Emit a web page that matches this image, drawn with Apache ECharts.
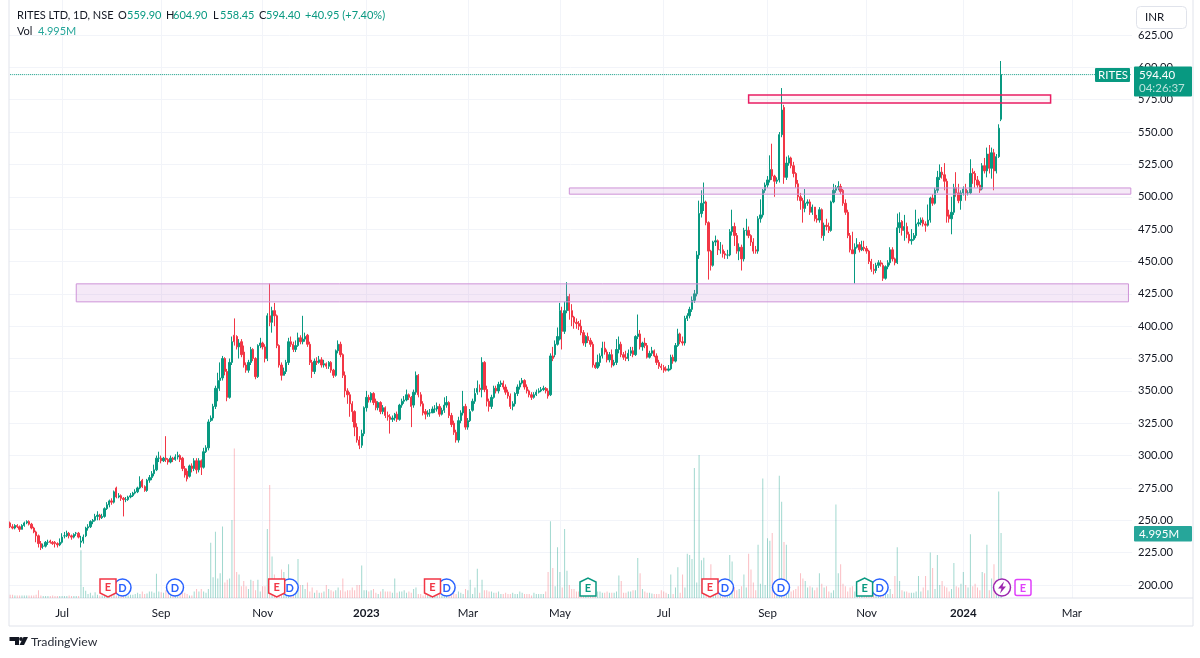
<!DOCTYPE html>
<html><head><meta charset="utf-8">
<style>html,body{margin:0;padding:0;background:#fff}#c{width:1200px;height:658px}</style>
<script src="https://cdn.jsdelivr.net/npm/echarts@6/dist/echarts.min.js"></script>
</head><body><div id="c"></div>
<script>
const opens=[
248,245,244,246,245,243,246,248,249,247,
244,241,238,232,230,230,233,234,233,233,
232,231,233,238,238,240,238,237,240,240,
233,234,238,244,245,249,250,253,254,252,
253,259,262,265,264,275,268,269,267,266,
266,268,269,271,272,275,281,276,273,281,
283,286,289,298,298,296,298,297,295,298,
297,299,300,298,290,288,284,292,290,296,
289,296,291,303,306,327,329,338,352,358,
360,375,365,345,372,393,392,384,388,380,
370,366,372,382,375,361,385,387,384,375,
408,403,412,408,385,370,362,365,372,388,
386,382,385,391,388,390,393,386,372,365,
373,372,374,370,371,369,372,366,362,381,
386,378,362,350,347,340,334,322,312,308,
317,337,345,343,348,342,337,341,334,337,
331,330,328,329,332,328,339,342,343,347,
345,339,349,362,347,340,334,332,333,333,
336,336,338,332,335,339,341,331,325,318,
312,327,333,338,322,327,335,342,349,352,
351,372,351,342,338,345,352,350,355,356,
353,349,346,338,340,348,353,356,358,353,
350,347,345,347,349,350,351,352,350,347,
377,378,386,390,410,396,412,423,412,407,
403,402,400,395,387,392,389,386,370,368,
372,377,383,380,374,378,370,372,382,386,
378,376,375,379,381,378,392,394,384,387,
385,376,379,381,377,372,369,368,367,366,
367,376,373,385,394,388,387,406,408,413,
420,425,455,487,495,496,480,458,447,465,
466,459,459,456,455,455,473,477,470,458,
461,452,474,474,470,465,459,458,483,486,
505,509,513,521,516,512,513,548,569,515,
526,530,524,518,510,500,497,491,495,496,
488,492,483,482,490,470,478,477,474,496,
505,507,508,505,495,488,470,459,456,461,
463,459,461,460,458,450,444,443,447,449,
447,437,446,449,459,452,449,476,481,474,
477,471,466,467,470,479,480,482,479,478,
482,499,495,505,515,519,517,512,486,483,
488,507,503,497,503,506,503,503,519,518,
513,509,506,524,520,533,522,534,520,531,
559.9];
const closes=[
245,244,246,245,243,246,248,249,247,244,
241,238,232,229,230,233,233,233,232,232,
231,233,237,238,240,238,237,239,240,237,
234,237,244,245,249,250,253,254,252,253,
259,262,265,264,272,268,269,267,266,266,
268,269,271,272,275,280,276,273,281,283,
286,289,298,298,296,298,297,295,298,297,
299,300,297,290,285,282,292,290,296,289,
296,291,303,306,326,329,338,352,358,360,
375,365,345,372,388,388,384,387,378,370,
366,372,382,375,361,385,387,384,375,408,
403,412,408,385,370,362,365,372,388,386,
382,385,391,388,390,392,386,372,365,373,
372,374,370,371,369,372,366,362,381,386,
378,362,350,347,340,334,322,312,308,317,
337,345,343,348,341,337,341,334,337,331,
330,328,329,332,328,339,342,343,347,345,
338,349,362,347,340,333,332,333,333,336,
336,338,332,335,339,341,331,324,318,312,
327,333,338,322,327,334,342,348,352,351,
372,351,342,338,345,352,350,355,356,353,
349,346,338,340,348,353,356,358,353,350,
347,345,347,349,350,351,352,350,346,377,
375,386,392,412,396,412,423,412,407,403,
402,400,395,387,392,389,386,370,368,372,
377,383,380,374,378,370,372,382,386,378,
376,375,379,381,378,392,394,384,387,385,
376,379,381,377,372,369,368,366,366,367,
376,373,385,394,388,387,406,408,413,420,
425,455,487,495,496,480,458,447,465,466,
459,459,456,455,455,473,477,470,458,461,
452,474,474,470,465,458,458,483,486,505,
509,513,521,516,512,513,548,567,515,526,
530,524,518,510,500,497,491,495,496,488,
492,483,482,490,470,478,477,474,496,505,
507,508,504,495,488,470,459,456,461,463,
459,461,460,458,450,444,443,447,449,448,
437,446,449,459,452,449,476,480,474,477,
471,466,467,470,479,480,482,479,478,482,
499,495,505,515,519,517,512,485,483,488,
507,503,497,503,506,503,503,518,518,513,
509,505,524,520,533,522,534,520,531,553,
594.4];
const highs=[
249,247,247,247,246,247,249,250,250,248,
245,242,239,234,232,234,235,235,234,234,
233,236,240,241,242,241,239,240,241,241,
238,239,245,247,250,251,255,257,255,255,
260,264,266,267,273,276,271,270,268,268,
269,271,272,274,276,284,282,277,282,285,
288,293,300,303,300,299,315,298,300,299,
301,303,301,299,292,290,293,294,298,298,
298,297,306,308,328,331,340,354,364,372,
377,376,367,375,392,406,393,390,390,385,
372,374,384,383,376,386,391,388,386,410,
433,415,418,409,386,372,368,374,391,392,
388,389,395,393,408,395,394,388,374,375,
376,377,376,374,372,373,373,367,382,389,
388,379,365,352,349,342,335,325,315,320,
338,350,347,349,349,344,342,342,339,338,
334,332,331,333,334,340,344,346,351,348,
346,351,365,363,349,342,336,335,336,338,
339,341,340,337,345,346,342,333,327,320,
330,335,350,340,329,336,344,352,358,355,
376,373,354,344,347,354,354,357,358,358,
355,351,348,342,349,355,358,360,359,355,
351,349,349,351,352,353,354,353,352,379,
384,389,399,418,415,419,434,425,417,408,
406,404,405,397,393,395,391,388,372,378,
379,388,388,382,380,382,374,390,392,388,
380,381,382,384,384,393,409,397,388,391,
387,381,384,382,379,374,371,370,369,370,
378,378,387,398,395,392,408,410,415,423,
428,458,497,505,511,497,481,459,466,470,
467,465,463,458,459,475,490,480,472,464,
463,476,483,477,471,468,462,485,498,506,
511,516,532,541,517,515,550,584,571,531,
532,531,527,519,513,503,499,506,498,498,
494,490,486,492,491,480,483,480,497,510,
509,512,510,506,498,490,472,473,464,468,
465,466,466,462,459,452,448,449,451,451,
449,447,451,461,461,453,487,488,482,486,
480,473,475,472,490,483,484,484,481,494,
500,502,507,520,525,523,526,514,490,500,
510,519,510,505,508,510,505,529,522,520,
516,512,526,530,538,540,538,537,533,556,
604.9];
const lows=[
244,243,243,244,241,243,245,247,246,243,
240,233,229,227,228,229,231,232,231,229,
229,230,232,236,237,236,235,236,238,236,
229,232,237,242,244,247,249,250,250,251,
252,258,260,262,263,267,267,265,253,264,
265,267,268,270,271,274,275,272,272,279,
281,284,288,295,294,295,295,293,294,295,
296,297,295,288,283,280,283,287,288,286,
287,285,290,302,304,326,327,336,342,350,
358,362,342,344,370,385,382,375,376,368,
364,364,370,373,359,360,383,382,372,373,
400,395,400,383,368,358,362,363,370,384,
380,380,384,386,386,388,384,370,360,363,
370,371,368,368,367,367,364,360,361,379,
376,360,345,340,330,326,315,310,305,306,
315,334,341,341,339,335,335,332,332,329,
327,317,326,327,326,327,337,340,342,343,
322,337,347,345,338,331,328,330,330,334,
333,334,330,331,333,337,329,322,316,310,
310,325,331,320,320,326,334,340,347,349,
345,349,338,334,336,344,348,348,353,351,
347,344,336,335,338,346,351,355,351,348,
345,343,344,346,348,349,350,348,344,346,
373,376,385,389,382,394,410,405,400,398,
398,397,393,385,384,387,384,368,367,367,
369,375,378,372,372,368,369,370,379,376,
374,373,373,377,376,377,390,382,381,383,
375,375,377,376,370,367,366,364,365,365,
366,371,372,384,386,385,385,404,406,411,
418,423,452,484,489,478,436,443,446,462,
455,456,453,452,452,454,470,462,456,451,
443,450,470,468,462,456,456,456,480,484,
503,507,511,513,500,510,511,546,510,513,
524,522,515,507,497,490,480,488,493,486,
486,481,480,480,468,466,474,472,473,495,
503,505,502,493,486,468,457,456,433,460,
457,458,458,456,448,442,440,441,445,446,
435,436,444,447,450,447,448,472,470,466,
468,464,463,466,468,477,478,477,473,477,
480,493,494,503,513,514,505,480,480,471,
486,500,495,490,501,497,501,502,510,507,
507,503,505,518,515,518,514,505,518,530,
558.45];
const volumes=[
.25,.25,.2,.2,.2,.2,.2,.2,.2,.2,
.2,.25,.6,.2,.15,.15,.15,.15,.2,.15,
.15,.15,.15,.15,.15,.2,.15,.15,.15,.15,
3.67,.85,.55,.3,.4,.2,.45,.25,.2,.2,
.3,.2,.2,.25,.3,.2,.2,.25,.25,.2,
.2,.25,.25,.3,.4,.3,.5,.3,.35,.5,
.5,.4,1.87,.5,.45,.4,.6,.4,.3,.2,
.2,.2,.3,.6,.4,.3,.2,.2,.5,.7,
.5,.7,.5,.4,.7,4.25,1.6,5.1,1.5,1.9,
5.5,1.2,1.4,1.5,6,11.5,2,1.8,.9,1.3,
.9,.7,1.4,1.3,.6,1.4,.5,.9,.9,5.3,
8.7,3.2,1.8,1.3,1.5,2.2,2,1.3,2.6,1,
.8,.7,3,1,1,.7,1.2,.5,.8,.4,
.6,.4,.4,.5,1,.7,.6,.5,.6,.8,
.6,1.5,.5,.6,.6,.8,.6,1,1,2.5,
.6,.6,.5,.6,.7,.4,.3,.5,.7,.5,
.5,.5,.4,1.5,.4,.5,.5,.6,.4,.5,
.4,.7,.8,.3,.3,.2,.3,.3,.4,.3,
.3,.2,.3,.2,.4,.4,.6,.7,.4,.3,
.5,.4,.3,.7,.6,1.4,.3,.8,2.25,.4,
1.4,.6,.6,.5,.5,.4,.4,.5,.3,.3,
.4,.3,.3,.4,.3,.3,.5,.4,.3,.3,
.3,.2,.4,.3,.3,.3,.3,.5,2,5.9,
2.3,.9,3.9,2,.8,5.3,2.1,1,.7,.7,
.5,.5,.3,.3,.3,.3,.3,.4,.4,.5,
.5,.4,.4,.5,.4,.4,.4,.5,1.74,1.3,
.4,.4,.5,.5,.6,.6,3.07,1.9,.7,.5,
.4,.4,.35,.3,.3,.3,.6,.5,.4,.3,
1.8,.3,.8,2.36,.4,1.8,.8,3.4,3.3,3,
10,1.2,11,2.9,3.1,1.5,1.2,2.6,.6,.4,
.3,.3,.3,.8,.4,3.3,2.8,.8,.6,.7,
.9,1.8,.8,3.4,2.2,1.2,.6,4.1,1.1,9.2,
1,4.6,4.4,5,1.2,1.1,9.4,7.4,4.3,4.1,
.5,.5,.6,.7,.9,1.9,1.5,1.3,.8,.9,
.8,.6,.8,1.9,1.1,.8,.9,.5,.4,.6,
7.2,1.9,2.6,1.1,.9,.5,.8,.9,.5,.4,
.5,.6,.7,.5,.6,.4,.5,.6,.4,.3,
.4,.4,.3,.7,.3,1.7,3.9,1.3,.6,.5,
.5,.4,.4,.4,.5,1.7,.5,.8,1.7,.6,
3.5,2.3,.7,3.3,1,1.3,.9,.8,.5,.7,
2.7,.9,.8,1.1,2,1,.8,4.9,.9,1.1,
.8,.6,2,1.9,4.1,.6,1.5,2.6,1.4,8.2,
4.995];
const tickLabels=['Jul','Sep','Nov','2023','Mar','May','Jul','Sep','Nov','2024','Mar'];
const tickBars=[22,64,107,151,194,233,277,321,363,404,450];
const barSlots=476;
const zones=[
 {from:28.3,to:473.9,top:432.7,bottom:418.8,kind:'soft'},
 {from:236.9,to:475.5,top:506.8,bottom:502,kind:'soft'},
 {from:312.8,to:440.8,top:578.7,bottom:572.5,kind:'hard'}];

const UP='#089981',DOWN='#F23645',TXT='#131722',GRID='#f2f4f9',FONT='Lato,"Open Sans",sans-serif';
const categories=Array.from({length:barSlots},()=>'');
tickBars.forEach((b,i)=>categories[b]=tickLabels[i]);
const tickSet=new Set(tickBars);
const candle=closes.map((c,i)=>[opens[i],c,lows[i],highs[i]]);
const lastPrice=categories.map(()=>closes[closes.length-1]);

const t=(x,y,text,o={})=>({type:'text',x,y,z:50,style:Object.assign({text,fill:TXT,font:'11px '+FONT,textVerticalAlign:'middle'},o)});
const r=(x,y,w,h,fill,o={})=>({type:'rect',z:45,shape:{x,y,width:w,height:h,r:o.r||0},style:{fill,stroke:o.stroke||null,lineWidth:o.lw||1}});
function circ(cx,cy,c,letter){return [
 {type:'circle',z:46,shape:{cx,cy,r:8.5},style:{fill:'#fff',stroke:c,lineWidth:1.5}},
 t(cx,cy+.5,letter,{fill:c,font:'bold 11px '+FONT,textAlign:'center'})];}
function shield(cx,c){const x0=cx-8,x1=cx+8,y0=579,y1=593;return [
 {type:'polygon',z:47,shape:{points:[[x0,y0],[x1,y0],[x1,y1],[cx,597],[x0,y1]]},style:{fill:'#fff',stroke:c,lineWidth:1.5}},
 t(cx,587,'E',{fill:c,font:'bold 11px '+FONT,textAlign:'center'})];}
function house(cx,c){const x0=cx-8,x1=cx+8;return [
 {type:'polygon',z:47,shape:{points:[[x0,582],[cx,578],[x1,582],[x1,596],[x0,596]]},style:{fill:'#fff',stroke:c,lineWidth:1.5}},
 t(cx,588,'E',{fill:c,font:'bold 11px '+FONT,textAlign:'center'})];}

const deco=[
 {type:'line',z:1,shape:{x1:9,y1:0,x2:9,y2:626},style:{stroke:'#e0e3eb'}},
 {type:'line',z:1,shape:{x1:1193,y1:0,x2:1193,y2:626},style:{stroke:'#e0e3eb'}},
 {type:'line',z:1,shape:{x1:9,y1:626,x2:1193,y2:626},style:{stroke:'#e0e3eb'}},
 {type:'line',z:1,shape:{x1:9,y1:598,x2:1193,y2:598},style:{stroke:'#e0e3eb'}},
 t(17,15.5,'RITES LTD, 1D, NSE'),
 t(118,15.5,'O'),t(127,15.5,'559.90',{fill:UP}),
 t(166,15.5,'H'),t(173,15.5,'604.90',{fill:UP}),
 t(213,15.5,'L'),t(220,15.5,'558.45',{fill:UP}),
 t(259,15.5,'C'),t(266,15.5,'594.40',{fill:UP}),
 t(305,15.5,'+40.95 (+7.40%)',{fill:UP}),
 t(17,31,'Vol'),t(38,31,'4.995M',{fill:'#26a69a'}),
 r(1136.5,6.5,50,22,'#fff',{stroke:'#e0e3eb',r:4}),
 t(1145,17.5,'INR',{font:'11.5px '+FONT}),
 r(1095,68,35,14,UP,{r:1}),t(1098,75.5,'RITES',{fill:'#fff',font:'11.5px '+FONT}),
 r(1134,66.5,58,30,UP,{r:1}),
 t(1139,75.5,'594.40',{fill:'#fff',font:'11.5px '+FONT}),
 t(1139,88.5,'04:26:37',{fill:'rgba(255,255,255,.72)',font:'11.5px '+FONT}),
 r(1134,526,58,15.5,'#26a69a',{r:1}),t(1139,534,'4.995M',{fill:'#fff',font:'11.5px '+FONT}),
 ...circ(122.5,587.5,'#2962FF','D'),...shield(108,DOWN),
 ...circ(175,587.5,'#2962FF','D'),
 ...circ(289.7,587.5,'#2962FF','D'),...shield(276.7,DOWN),
 ...circ(446.6,587.5,'#2962FF','D'),...shield(432.5,DOWN),
 ...house(588,UP),
 ...circ(725,587.5,'#2962FF','D'),...shield(710,DOWN),
 ...circ(781,587.5,'#2962FF','D'),
 ...circ(879.6,587.5,'#2962FF','D'),...house(864.6,UP),
 {type:'circle',z:46,shape:{cx:1002,cy:587.5,r:8.5},style:{fill:'#fff',stroke:'#9C27B0',lineWidth:1.5}},
 {type:'polygon',z:47,shape:{points:[[1004,581.5],[998,588.5],[1001.5,588.5],[1000,593.5],[1006,586.5],[1002.5,586.5]]},style:{fill:'#9C27B0'}},
 r(1015,579.5,16,16,'#fff',{stroke:'#E040FB',lw:1.5,r:2}),
 t(1023,588,'E',{fill:'#E040FB',font:'bold 11px '+FONT,textAlign:'center'}),
 {type:'polygon',z:50,shape:{points:[[9.5,637],[19,637],[19,645],[15,645],[15,641],[9.5,641]]},style:{fill:TXT}},
 {type:'circle',z:50,shape:{cx:21,cy:639,r:1.9},style:{fill:TXT}},
 {type:'polygon',z:50,shape:{points:[[23.5,637],[28,637],[24,645],[19.5,645]]},style:{fill:TXT}},
 t(31,642.5,'TradingView',{font:'12.3px '+FONT,fill:'#2a2e39'})
];

const chart=echarts.init(document.getElementById('c'),null,{renderer:'canvas'});
chart.setOption({
 animation:false,backgroundColor:'#fff',
 grid:[{left:9,width:1123,top:35,height:550},{left:9,width:1123,top:0,height:598}],
 xAxis:[
  {type:'category',gridIndex:0,data:categories,show:false},
  {type:'category',gridIndex:1,data:categories,axisLine:{show:false},axisTick:{show:false},
   axisLabel:{interval:i=>tickSet.has(i),margin:9,color:TXT,fontSize:11.5,fontFamily:FONT,hideOverlap:false,
    formatter:v=>/^\d+$/.test(v)?'{y|'+v+'}':v,rich:{y:{fontWeight:'bold',fontSize:11.5,color:TXT,fontFamily:FONT}}},
   splitLine:{show:true,interval:i=>tickSet.has(i),alignWithLabel:true,lineStyle:{color:GRID,width:1}}}
 ],
 yAxis:[
  {type:'value',gridIndex:0,position:'right',min:200,max:625,interval:25,scale:true,
   axisLine:{show:false},axisTick:{show:false},
   axisLabel:{margin:6,color:TXT,fontSize:11.2,fontFamily:FONT,padding:[3,0,0,0],formatter:v=>v.toFixed(2)},
   splitLine:{show:true,lineStyle:{color:GRID,width:1}}},
  {type:'value',gridIndex:1,min:0,max:46,show:false,splitLine:{show:false}}
 ],
 series:[
  {type:'bar',name:'Vol',xAxisIndex:1,yAxisIndex:1,data:volumes,barWidth:1,z:1,
   itemStyle:{color:p=>closes[p.dataIndex]>=opens[p.dataIndex]?'rgba(8,153,129,.38)':'rgba(242,54,69,.32)'}},
  {type:'line',name:'Last',xAxisIndex:0,yAxisIndex:0,data:lastPrice,showSymbol:false,symbol:'none',silent:true,z:2,
   lineStyle:{type:'dotted',color:'#089981',width:1},itemStyle:{color:'#089981'}},
  {type:'candlestick',name:'RITES',xAxisIndex:0,yAxisIndex:0,data:candle,barWidth:1.8,z:3,
   itemStyle:{color:UP,color0:DOWN,borderColor:UP,borderColor0:DOWN,borderWidth:1},
   markArea:{silent:true,z:4,label:{show:false},data:zones.map(zn=>[
    {coord:[zn.from,zn.top],itemStyle:zn.kind==='soft'
      ?{color:'rgba(206,147,216,.2)',borderColor:'#ce93d8',borderWidth:1}
      :{color:'rgba(233,30,99,.04)',borderColor:'#e91e63',borderWidth:1.5}},
    {coord:[zn.to,zn.bottom]}])}}
 ],
 graphic:deco
});
</script></body></html>
